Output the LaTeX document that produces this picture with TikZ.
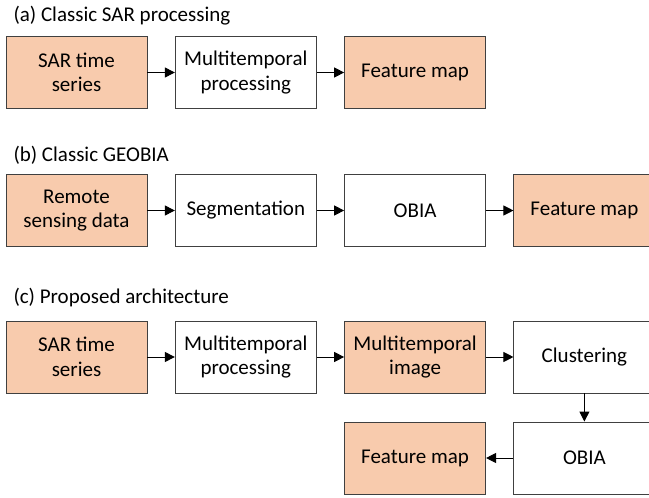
\documentclass[tikz,border=0pt]{standalone}
\usepackage{fontspec}
\setmainfont{Carlito}
\usetikzlibrary{arrows.meta}
\definecolor{peach}{HTML}{F8CBAD}
\definecolor{edge}{HTML}{404040}

\begin{document}
\begin{tikzpicture}[x=1pt, y=-1pt, node distance = {169.3pt},
	main/.style = {draw=edge, line width=0.9pt, fill=white, minimum width=141pt, minimum height=72pt, align=center, inner sep=0pt, font=\fontsize{21}{24.5}\selectfont},
	hot/.style = {main, fill=peach},
	title/.style = {anchor=west, inner sep=0pt, font=\fontsize{21}{24.5}\selectfont},
	>={Triangle[length=10pt, width=10pt]}, every path/.style={line width=1pt}]
	\useasboundingbox (0,0) rectangle (649,498);
	% (a)
	\node[title] (ta) at (13,16) {(a) Classic SAR processing};
	\node[hot] (a1) at (76.5,72.5) {SAR time\\series};
	\node[main] (a2) [right of=a1] {Multitemporal\\processing};
	\node[hot] (a3) [right of=a2] {Feature map};
	\draw[->] (a1) -- (a2);
	\draw[->] (a2) -- (a3);
	% (b)
	\node[title] (tb) at (13,155) {(b) Classic GEOBIA};
	\node[hot] (b1) at (76.5,210.5) {Remote\\sensing data};
	\node[main] (b2) [right of=b1] {Segmentation};
	\node[main] (b3) [right of=b2] {OBIA};
	\node[hot] (b4) [right of=b3] {Feature map};
	\draw[->] (b1) -- (b2);
	\draw[->] (b2) -- (b3);
	\draw[->] (b3) -- (b4);
	% (c)
	\node[title] (tc) at (13,298) {(c) Proposed architecture};
	\node[hot] (c1) at (76.5,357) {SAR time\\series};
	\node[main] (c2) [right of=c1] {Multitemporal\\processing};
	\node[hot] (c3) [right of=c2] {Multitemporal\\image};
	\node[main] (c4) [right of=c3] {Clustering};
	\node[main] (c5) [below of=c4, node distance=101pt] {OBIA};
	\node[hot] (c6) [left of=c5] {Feature map};
	\draw[->] (c1) -- (c2);
	\draw[->] (c2) -- (c3);
	\draw[->] (c3) -- (c4);
	\draw[->] (c4) -- (c5);
	\draw[->] (c5) -- (c6);
\end{tikzpicture}
\end{document}
